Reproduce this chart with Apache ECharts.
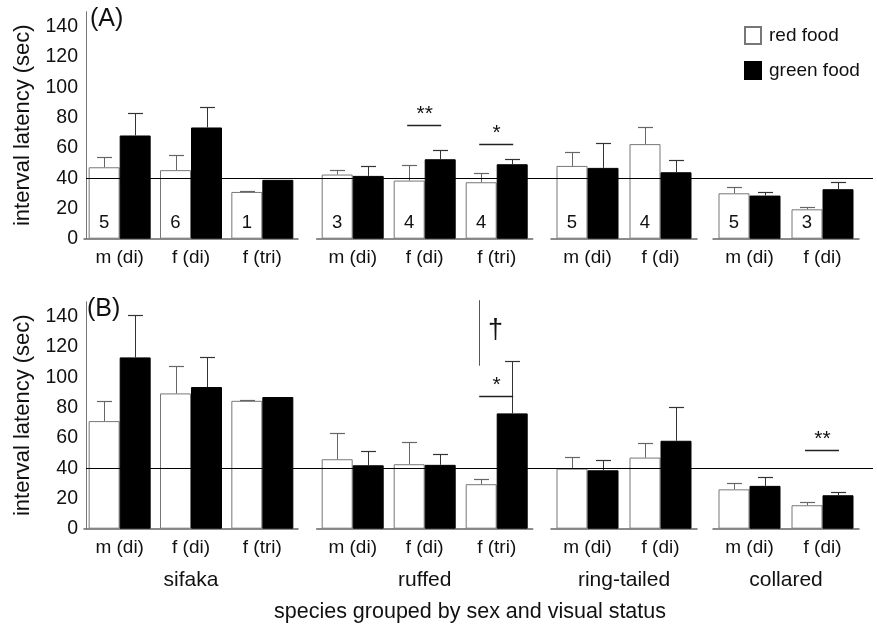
<!DOCTYPE html>
<html><head><meta charset="utf-8">
<script src="https://cdn.jsdelivr.net/npm/echarts@6/dist/echarts.min.js"></script>
<style>html,body{margin:0;padding:0;background:#fff}#chart{width:877px;height:626px}</style>
</head><body><div id="chart"></div>
<script>
// ---------- data ----------
const species = ['sifaka', 'ruffed', 'ring-tailed', 'collared'];
const categories = ['m (di)', 'f (di)', 'f (tri)', 'm (di)', 'f (di)', 'f (tri)', 'm (di)', 'f (di)', 'm (di)', 'f (di)'];
const speciesIndex = [0, 0, 0, 1, 1, 1, 2, 2, 3, 3];
const yTicks = [0, 20, 40, 60, 80, 100, 120, 140];
const refValue = 40;
const seriesNames = ['red food', 'green food'];

// Panel A
const redA = [47.2, 45.3, 30.9, 42.4, 38.4, 37.3, 48.1, 62.5, 30.0, 19.4];
const redAErr = [6.7, 9.9, 0.3, 2.9, 10.4, 6.4, 9.5, 11.2, 4.4, 1.4];
const greenA = [68.2, 73.5, 38.9, 41.5, 52.5, 49.2, 46.8, 43.9, 28.5, 32.7];
const greenAErr = [14.6, 13.5, null, 6.8, 6.4, 3.3, 16.3, 7.8, 2.6, 4.8];
const nA = [5, 6, 1, 3, 4, 4, 5, 4, 5, 3];
const sigA = [{cat: 4, y: 75.3, text: '**'}, {cat: 5, y: 62.7, text: '*'}];

// Panel B
const redB = [71.1, 89.4, 84.5, 45.9, 42.6, 29.4, 39.7, 47.0, 26.0, 15.5];
const redBErr = [13.4, 18.1, 0.4, 17.5, 14.4, 3.7, 7.5, 9.5, 4.0, 1.9];
const greenB = [113.2, 93.6, 87.0, 41.9, 42.2, 76.2, 38.6, 58.1, 28.3, 22.1];
const greenBErr = [27.9, 20.1, null, 9.5, 7.0, 34.6, 6.9, 22.3, 5.7, 2.4];
const sigB = [{cat: 5, y: 87.6, text: '*'}, {cat: 9, y: 52.0, text: '**'}];
const daggerB = [{cat: 5, from: 107.7, to: 151, labelY: 131.2, text: '†'}];

// ---------- layout / style ----------
const FONT = 'Liberation Sans, Arial, Helvetica, sans-serif';
const panelTops = [11.7, 301.7];
const PANEL_H = 227;
const groupLeft = [84, 316.7, 551, 713];
const groupWidth = [214, 216, 146, 146];
const BAR_W = 31;
const CAP_W = 15;
const TXT = '#111';

const panels = [
  {red: redA, redErr: redAErr, green: greenA, greenErr: greenAErr, n: nA, sig: sigA, dagger: [], speciesLabels: false},
  {red: redB, redErr: redBErr, green: greenB, greenErr: greenBErr, n: null, sig: sigB, dagger: daggerB, speciesLabels: true}
];

const grid = [], xAxis = [], yAxis = [], series = [];

panels.forEach((P, p) => {
  const top = panelTops[p];
  const bg = grid.length;
  grid.push({left: 86, top: top, width: 787, height: PANEL_H});
  xAxis.push({gridIndex: bg, type: 'value', min: 0, max: 1, show: false});
  yAxis.push({
    gridIndex: bg, type: 'value', min: 0, max: 150, interval: 20,
    axisLine: {show: true, lineStyle: {color: '#777', width: 1}},
    axisTick: {show: false}, splitLine: {show: false},
    axisLabel: {fontSize: 19.5, color: TXT, margin: 8, fontFamily: FONT,
      formatter: v => yTicks.includes(v) ? String(v) : ''},
    name: 'interval latency (sec)', nameLocation: 'middle', nameGap: 52,
    nameTextStyle: {fontSize: 22, color: TXT, fontFamily: FONT}
  });
  series.push({
    type: 'custom', xAxisIndex: bg, yAxisIndex: bg, z: 10, silent: true,
    data: [[0, refValue]],
    renderItem: (params, api) => {
      const cs = params.coordSys;
      const y = Math.round(api.coord([0, api.value(1)])[1]) + 0.5;
      return {type: 'line', shape: {x1: cs.x, y1: y, x2: cs.x + cs.width, y2: y},
        style: {stroke: '#000', lineWidth: 1.2}};
    }
  });

  species.forEach((sp, g) => {
    const idxs = categories.map((c, i) => i).filter(i => speciesIndex[i] === g);
    const gi = grid.length;
    grid.push({left: groupLeft[g], top: top, width: groupWidth[g], height: PANEL_H});
    xAxis.push({
      gridIndex: gi, type: 'category', data: idxs.map(i => categories[i]),
      axisLine: {show: true, lineStyle: {color: '#666', width: 1.5}},
      axisTick: {show: false},
      axisLabel: {fontSize: 19, color: TXT, margin: 10, fontFamily: FONT},
      name: P.speciesLabels ? sp : '', nameLocation: 'middle', nameGap: 41,
      nameTextStyle: {fontSize: 21, color: TXT, fontFamily: FONT}
    });
    yAxis.push({gridIndex: gi, type: 'value', min: 0, max: 150, show: false});

    series.push({
      name: seriesNames[0], type: 'bar', xAxisIndex: gi, yAxisIndex: gi,
      barWidth: BAR_W, barGap: '0%',
      data: idxs.map(i => P.red[i]),
      itemStyle: {color: '#fff', borderColor: '#777', borderWidth: 1},
      label: P.n ? {show: true, position: 'insideBottom', distance: 6, fontSize: 18.5,
        color: TXT, fontFamily: FONT, formatter: prm => String(P.n[idxs[prm.dataIndex]])} : {show: false}
    });
    series.push({
      name: seriesNames[1], type: 'bar', xAxisIndex: gi, yAxisIndex: gi,
      barWidth: BAR_W, barGap: '0%',
      data: idxs.map(i => P.green[i]),
      itemStyle: {color: '#000', borderColor: '#000', borderWidth: 1}
    });

    const errData = [];
    idxs.forEach((i, k) => {
      if (P.redErr[i] != null) errData.push([k, P.red[i], P.red[i] + P.redErr[i], 0]);
      if (P.greenErr[i] != null) errData.push([k, P.green[i], P.green[i] + P.greenErr[i], 1]);
    });
    series.push({
      type: 'custom', xAxisIndex: gi, yAxisIndex: gi, z: 5, silent: true,
      data: errData, encode: {x: 0, y: 2},
      renderItem: (params, api) => {
        const k = api.value(0), s = api.value(3);
        const c = api.coord([k, api.value(1)]);
        const u = api.coord([k, api.value(2)]);
        const x = Math.round(c[0] + (s === 0 ? -BAR_W / 2 : BAR_W / 2)) + 0.5;
        const uy = Math.round(u[1]) + 0.5;
        const col = s === 0 ? '#666' : '#333';
        return {type: 'group', children: [
          {type: 'line', shape: {x1: x, y1: c[1], x2: x, y2: uy}, style: {stroke: col, lineWidth: 1}},
          {type: 'line', shape: {x1: x - CAP_W / 2, y1: uy, x2: x + CAP_W / 2, y2: uy}, style: {stroke: col, lineWidth: 1.2}}
        ]};
      }
    });

    const first = idxs[0];
    const sigs = P.sig.filter(a => speciesIndex[a.cat] === g);
    if (sigs.length) {
      series.push({
        type: 'custom', xAxisIndex: gi, yAxisIndex: gi, z: 6, silent: true,
        data: sigs.map(a => [a.cat - first, a.y]),
        renderItem: (params, api) => {
          const a = sigs[params.dataIndex];
          const c = api.coord([api.value(0), api.value(1)]);
          const y = Math.round(c[1]) + 0.5;
          return {type: 'group', children: [
            {type: 'line', shape: {x1: c[0] - BAR_W / 2 - 2, y1: y, x2: c[0] + BAR_W / 2 + 1, y2: y},
              style: {stroke: '#222', lineWidth: 1.3}},
            {type: 'text', x: c[0], y: y - 11,
              style: {text: a.text, fontSize: 21, fill: TXT, fontFamily: FONT, align: 'center', verticalAlign: 'middle'}}
          ]};
        }
      });
    }
    const dags = P.dagger.filter(a => speciesIndex[a.cat] === g);
    if (dags.length) {
      series.push({
        type: 'custom', xAxisIndex: gi, yAxisIndex: gi, z: 6, silent: true,
        data: dags.map(a => [a.cat - first, a.from, a.to, a.labelY]),
        renderItem: (params, api) => {
          const a = dags[params.dataIndex];
          const b = api.coord([api.value(0), api.value(1)]);
          const t = api.coord([api.value(0), api.value(2)]);
          const l = api.coord([api.value(0), api.value(3)]);
          const x = Math.round(b[0] - BAR_W / 2 - 2) + 0.5;
          return {type: 'group', children: [
            {type: 'line', shape: {x1: x, y1: b[1], x2: x, y2: t[1]}, style: {stroke: '#555', lineWidth: 1}},
            {type: 'text', x: x + 16, y: l[1],
              style: {text: a.text, fontSize: 27, fill: TXT, fontFamily: FONT, align: 'center', verticalAlign: 'middle'}}
          ]};
        }
      });
    }
  });
});

const option = {
  animation: false,
  backgroundColor: '#fff',
  textStyle: {fontFamily: FONT},
  legend: {
    data: seriesNames, orient: 'vertical', left: 744, top: 26, padding: 0,
    itemWidth: 16, itemHeight: 17, itemGap: 16, icon: 'rect', selectedMode: false,
    textStyle: {fontSize: 19, color: TXT, fontFamily: FONT, padding: [0, 0, 0, 3]}
  },
  graphic: [
    {type: 'text', left: 90, top: 7, style: {text: '(A)', fontSize: 25, fill: TXT, fontFamily: FONT}},
    {type: 'text', left: 87, top: 297, style: {text: '(B)', fontSize: 25, fill: TXT, fontFamily: FONT}},
    {type: 'text', x: 470, y: 612, style: {text: 'species grouped by sex and visual status', fontSize: 21.5,
      fill: TXT, fontFamily: FONT, align: 'center', verticalAlign: 'middle'}}
  ],
  grid, xAxis, yAxis, series
};

const chart = echarts.init(document.getElementById('chart'), null, {renderer: 'canvas'});
chart.setOption(option);
</script>
</body></html>
